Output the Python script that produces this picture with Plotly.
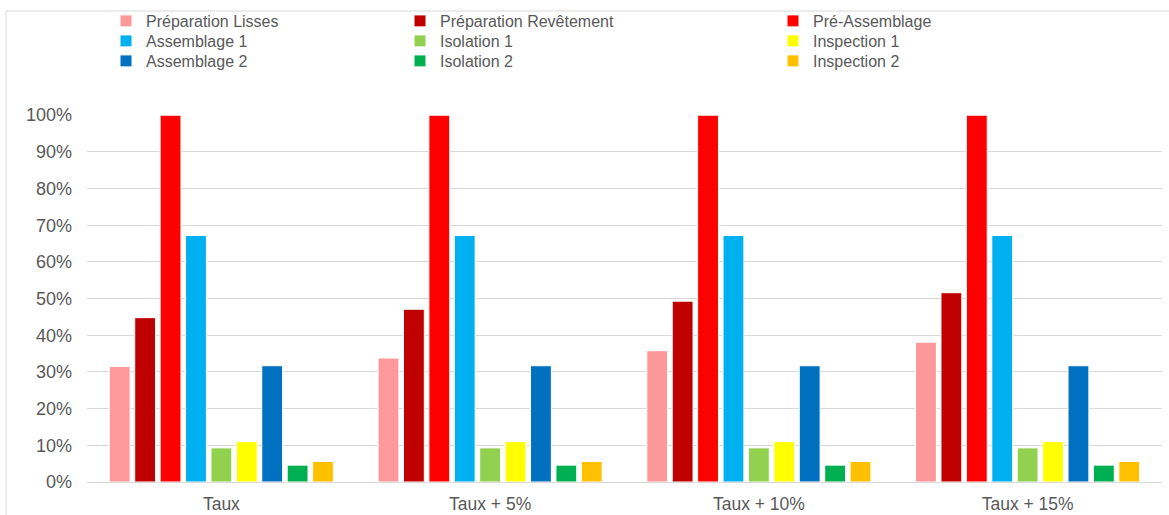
import plotly.graph_objects as go

categories = ["Taux", "Taux + 5%", "Taux + 10%", "Taux + 15%"]
series_names = ["Préparation Lisses", "Préparation Revêtement", "Pré-Assemblage",
                "Assemblage 1", "Isolation 1", "Inspection 1",
                "Assemblage 2", "Isolation 2", "Inspection 2"]
prep_lisses = [0.315, 0.338, 0.358, 0.381]
prep_revetement = [0.448, 0.471, 0.493, 0.516]
pre_assemblage = [1.0, 1.0, 1.0, 1.0]
assemblage_1 = [0.672, 0.672, 0.672, 0.672]
isolation_1 = [0.093, 0.093, 0.093, 0.093]
inspection_1 = [0.110, 0.110, 0.110, 0.110]
assemblage_2 = [0.317, 0.317, 0.317, 0.317]
isolation_2 = [0.046, 0.046, 0.046, 0.046]
inspection_2 = [0.056, 0.056, 0.056, 0.056]
series_values = [prep_lisses, prep_revetement, pre_assemblage, assemblage_1, isolation_1,
                 inspection_1, assemblage_2, isolation_2, inspection_2]
colors = ["#FF9999", "#C00000", "#FF0000", "#00B0F0", "#92D050", "#FFFF00",
          "#0070C0", "#00B050", "#FFC000"]

W, H = 1169, 515
L, R, T, B = 87, 7, 115, 33
pw, ph = W - L - R, H - T - B


def px_x(x):
    return (x - L) / pw


def px_y(y):
    return (H - B - y) / ph


FONT = "Liberation Sans, Arial, sans-serif"
GRAY = "#595959"

# legend grid: 3 columns x 3 rows, one legend box per entry
col_left_px = [106, 400, 773]
row_top_px = [4, 24, 44]

fig = go.Figure()
legend_layout = {}
for i, (name, vals, col) in enumerate(zip(series_names, series_values, colors)):
    lg = f"legend{i + 2}"
    r, c = divmod(i, 3)
    fig.add_trace(go.Bar(
        x=categories, y=vals, name=name, legend=lg,
        marker=dict(color=col, line=dict(color="white", width=1)),
    ))
    legend_layout[lg] = dict(
        orientation="v", xanchor="left", yanchor="top",
        x=px_x(col_left_px[c]), y=px_y(row_top_px[r]),
        font=dict(family=FONT, size=16, color=GRAY),
        bgcolor="rgba(0,0,0,0)",
    )

fig.update_layout(
    width=W, height=H,
    margin=dict(l=L, r=R, t=T, b=B, autoexpand=False),
    paper_bgcolor="white", plot_bgcolor="white",
    barmode="group", bargap=0.149, bargroupgap=0.18,
    font=dict(family=FONT, color=GRAY),
    xaxis=dict(showline=True, linecolor="#D9D9D9", linewidth=1, ticks="",
               showgrid=False, tickfont=dict(size=17.5, color=GRAY),
               ticklabelstandoff=6, automargin=False),
    yaxis=dict(range=[0, 1.0005], dtick=0.1, tickformat=".0%", showgrid=True,
               gridcolor="#D9D9D9", gridwidth=1, zeroline=False, showline=False,
               ticks="", tickfont=dict(size=18, color=GRAY), ticklabelstandoff=14,
               automargin=False),
    shapes=[dict(type="rect", xref="paper", yref="paper",
                 x0=px_x(6), x1=px_x(1180), y0=px_y(530), y1=px_y(11),
                 line=dict(color="#D9D9D9", width=1), fillcolor="rgba(0,0,0,0)",
                 layer="below")],
    **legend_layout,
)

fig.write_html("out.html")
